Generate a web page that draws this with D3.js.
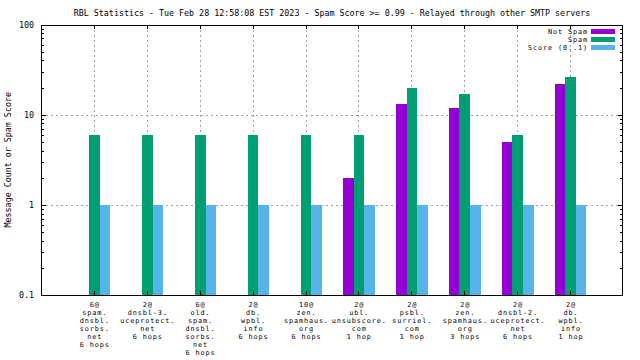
<!DOCTYPE html>
<html><head><meta charset="utf-8">
<script src="https://cdn.jsdelivr.net/npm/d3@7"></script>
<style>body{margin:0;background:#fff}svg{display:block}text{font-family:"DejaVu Sans Mono",monospace;font-size:8.33px;fill:#000}
text.sm{font-size:6.85px;letter-spacing:0.88px}</style>
</head><body>
<svg id="c" width="640" height="360"></svg>
<script>
const categories = [
  ["6@","spam.","dnsbl.","sorbs.","net","6 hops"],
  ["2@","dnsbl-3.","uceprotect.","net","6 hops"],
  ["6@","old.","spam.","dnsbl.","sorbs.","net","6 hops"],
  ["2@","db.","wpbl.","info","6 hops"],
  ["10@","zen.","spamhaus.","org","6 hops"],
  ["2@","ubl.","unsubscore.","com","1 hop"],
  ["2@","psbl.","surriel.","com","1 hop"],
  ["2@","zen.","spamhaus.","org","3 hops"],
  ["2@","dnsbl-2.","uceprotect.","net","6 hops"],
  ["2@","db.","wpbl.","info","1 hop"]
];
const notSpam = [0,0,0,0,0,2,13,12,5,22];
const spam = [6,6,6,6,6,6,20,17,6,26];
const score = [1,1,1,1,1,1,1,1,1,1];
const yTicks = [0.1,1,10,100];
const yTickLabels = ["0.1","1","10","100"];
const seriesNames = ["Not Spam","Spam","Score (0..1)"];
const colors = ["#9400d3","#009e73","#56b4e9"];
const title = "RBL Statistics - Tue Feb 28 12:58:08 EST 2023 - Spam Score >= 0.99 - Relayed through other SMTP servers";
const yLabel = "Message Count or Spam Score";

const svg = d3.select("#c");
const L=41, R=623, T=24.5, B=295;
const x = d3.scaleLinear().domain([-1,10]).range([L,R]);
const y = d3.scaleLog().domain([0.1,100]).range([B,T]);
const bw = 0.2;

// grid
const g = svg.append("g").attr("shape-rendering","crispEdges");
g.selectAll(".vg").data(categories).join("line")
  .attr("x1",(d,i)=>Math.round(x(i))+0.5).attr("x2",(d,i)=>Math.round(x(i))+0.5)
  .attr("y1",T).attr("y2",B).attr("stroke","#a0a0a0").attr("stroke-dasharray","2,3");
g.selectAll(".hg").data(yTicks.slice(1,-1)).join("line")
  .attr("x1",L).attr("x2",R).attr("y1",d=>Math.round(y(d))+0.5).attr("y2",d=>Math.round(y(d))+0.5)
  .attr("stroke","#a0a0a0").attr("stroke-dasharray","2,3");

// bars
const series = [notSpam, spam, score];
series.forEach((s,si)=>{
  svg.append("g").attr("shape-rendering","crispEdges").selectAll("rect")
    .data(s.map((v,i)=>({v,i})).filter(d=>d.v>0)).join("rect")
    .attr("x",d=>x(d.i + (si-1.5)*bw)+0.5)
    .attr("width",x(bw)-x(0))
    .attr("y",d=>y(d.v))
    .attr("height",d=>y(0.1)-y(d.v))
    .attr("fill",colors[si]);
});

// ticks
const tk = svg.append("g").attr("shape-rendering","crispEdges").attr("stroke","#000");
categories.forEach((c,i)=>{
  const xx=Math.round(x(i))+0.5;
  tk.append("line").attr("x1",xx).attr("x2",xx).attr("y1",B).attr("y2",B-4);
  tk.append("line").attr("x1",xx).attr("x2",xx).attr("y1",T).attr("y2",T+4);
});
for(let d=0; d<3; d++){
  const base = yTicks[d];
  for(let m=1;m<10;m++){
    const v=base*m; const yy=Math.round(y(v))+0.5;
    const len = m===1?5:3;
    tk.append("line").attr("x1",L).attr("x2",L+len).attr("y1",yy).attr("y2",yy);
    tk.append("line").attr("x1",R).attr("x2",R-len).attr("y1",yy).attr("y2",yy);
  }
}
svg.append("rect").attr("x",L+0.5).attr("y",Math.round(T)+0.5).attr("width",R-L-1).attr("height",B-Math.round(T))
  .attr("fill","none").attr("stroke","#000").attr("shape-rendering","crispEdges");

// y tick labels
svg.selectAll(".yl").data(yTicks).join("text")
  .attr("x",34).attr("y",d=>y(d)+3).attr("text-anchor","end")
  .text((d,i)=>yTickLabels[i]);

// x labels
categories.forEach((c,i)=>{
  c.forEach((line,j)=>{
    svg.append("text").attr("class","sm").attr("text-anchor","middle")
      .attr("x",x(i)+0.9).attr("y",307+j*8).text(line);
  });
});

// title
svg.append("text").attr("x",(L+R)/2).attr("y",16).attr("text-anchor","middle").text(title);
// y label
svg.append("text").attr("transform",`translate(11,${(T+B)/2}) rotate(-90)`).attr("text-anchor","middle").text(yLabel);

// legend
seriesNames.forEach((n,i)=>{
  const cy = 31.5 + i*8;
  svg.append("text").attr("class","sm").attr("x",588).attr("y",cy+2.5).attr("text-anchor","end").text(n);
  svg.append("rect").attr("x",591).attr("y",cy-2.5).attr("width",24).attr("height",5).attr("fill",colors[i]);
});
</script>
</body></html>
